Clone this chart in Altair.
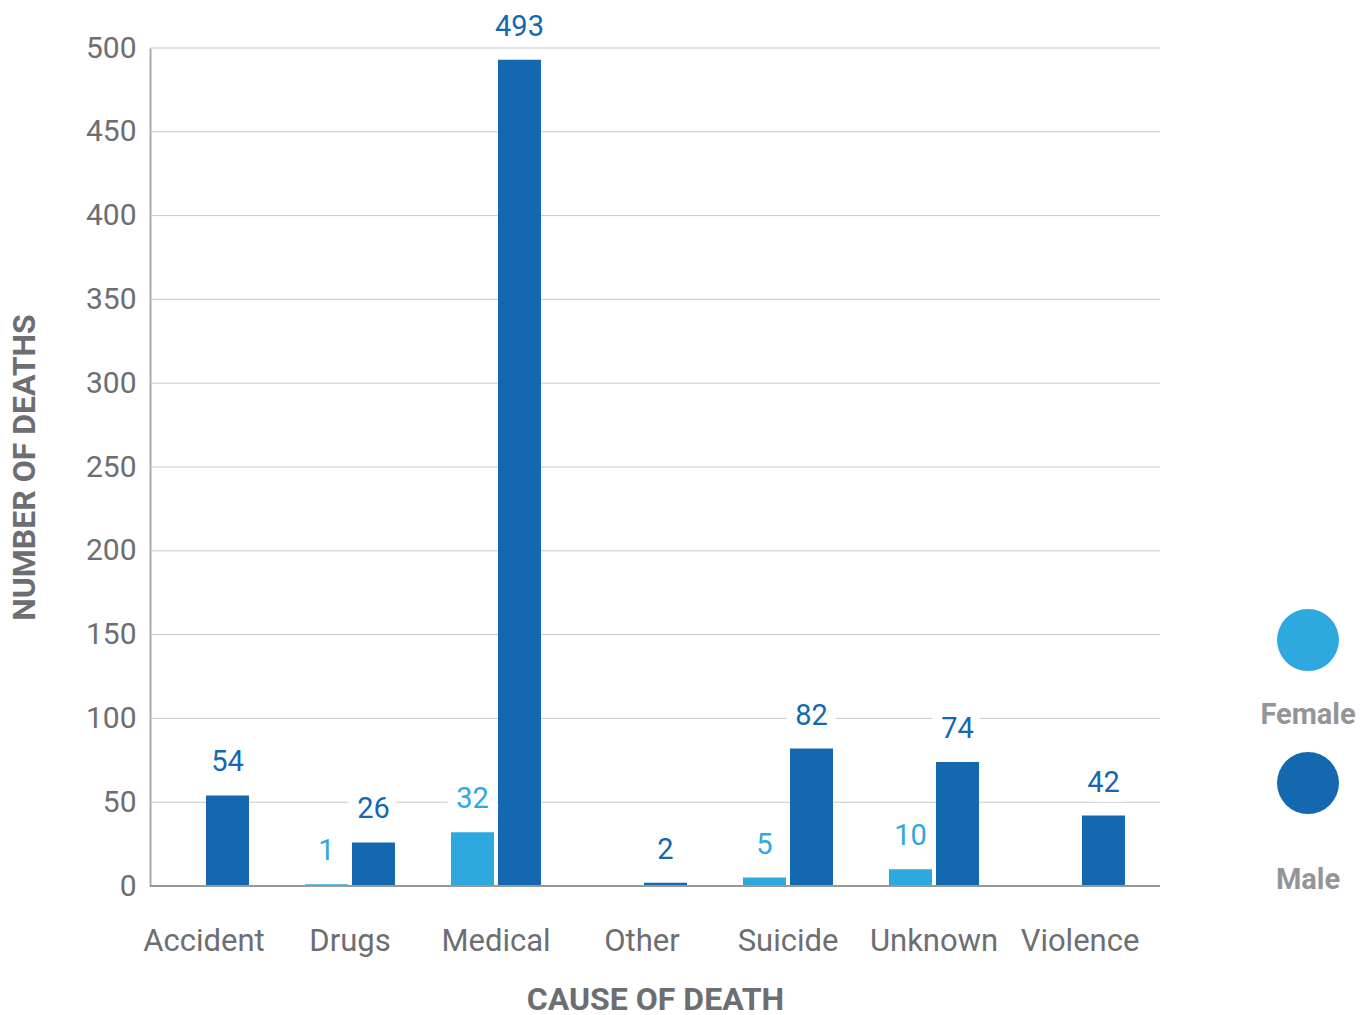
import altair as alt
import pandas as pd

# Deaths by cause and sex
causes = ["Accident", "Drugs", "Medical", "Other", "Suicide", "Unknown", "Violence"]
female = [None, 1, 32, None, 5, 10, None]
male = [54, 26, 493, 2, 82, 74, 42]
series = ["Female", "Male"]
colors = ["#2EA9E0", "#1368B0"]
y_ticks = list(range(0, 501, 50))

rows = []
for cause, f, m in zip(causes, female, male):
    if f is not None:
        rows.append({"cause": cause, "sex": "Female", "deaths": f})
    if m is not None:
        rows.append({"cause": cause, "sex": "Male", "deaths": m})
df = pd.DataFrame(rows)

FONT = "Roboto"
GREY = "#6d6e71"
PLOT_W = 1010
PLOT_H = 838

y_scale = alt.Scale(domain=[0, 500], nice=False)

x_enc = alt.X(
    "cause:N",
    sort=causes,
    scale=alt.Scale(range=[-19, 1003], paddingInner=0, paddingOuter=0),
    axis=alt.Axis(
        title="CAUSE OF DEATH",
        titleX=PLOT_W / 2,
        labelAngle=0,
        labelFontSize=31,
        domain=False,
        ticks=False,
        grid=False,
        labelPadding=40,
        titlePadding=28,
    ),
)
xoff_enc = alt.XOffset(
    "sex:N",
    sort=series,
    scale=alt.Scale(domain=series, paddingInner=0.085, paddingOuter=0.596),
)
y_enc = alt.Y(
    "deaths:Q",
    scale=y_scale,
    axis=alt.Axis(
        title="NUMBER OF DEATHS",
        values=y_ticks,
        ticks=False,
        grid=False,
        labelFontSize=30,
        labelPadding=14,
        titlePadding=44,
    ),
)
color_enc = alt.Color("sex:N", scale=alt.Scale(domain=series, range=colors), legend=None)

# Horizontal gridlines across the full plot width
grid = alt.Chart(pd.DataFrame({"deaths": y_ticks[1:]})).mark_rule(
    color="#c8c8c8", strokeWidth=1
).encode(y=alt.Y("deaths:Q", scale=y_scale))

base = alt.Chart(df).encode(x=x_enc, xOffset=xoff_enc, y=y_enc)

bars = base.mark_bar().encode(color=color_enc)

# White halo so the value labels break the gridlines
halo = base.mark_text(
    dy=-33, font=FONT, fontSize=29, fill="white", stroke="white",
    strokeWidth=20, strokeJoin="round",
).encode(text="deaths:Q")

labels = base.mark_text(dy=-33, font=FONT, fontSize=29).encode(
    text="deaths:Q", color=color_enc
)

baseline = alt.Chart(pd.DataFrame({"deaths": [0]})).mark_rule(
    color="#97999b", strokeWidth=2
).encode(y=alt.Y("deaths:Q", scale=y_scale))

main = alt.layer(grid, bars, halo, labels, baseline).properties(width=PLOT_W, height=PLOT_H)

# Legend: swatches with their names underneath
legend_df = pd.DataFrame({"sex": series})
dots = alt.Chart(legend_df).mark_circle(size=3844, opacity=1).encode(
    y=alt.Y("sex:N", sort=series, scale=alt.Scale(type="point", range=[592, 735], padding=0), axis=None),
    color=color_enc,
)
names = alt.Chart(legend_df).mark_text(
    font=FONT, fontSize=29, fontWeight="bold", color="#939598", baseline="middle"
).encode(
    y=alt.Y("sex:N", sort=series, scale=alt.Scale(type="point", range=[667, 832], padding=0), axis=None),
    text="sex:N",
)
legend = alt.layer(dots, names).resolve_scale(y="independent").properties(width=100, height=PLOT_H)

chart = (
    alt.hconcat(main, legend, spacing=86)
    .properties(padding={"left": 8, "top": 12, "right": 0, "bottom": 6})
    .configure_view(stroke=None)
    .configure_axis(
        labelFont=FONT,
        labelColor=GREY,
        titleFont=FONT,
        titleFontSize=32,
        titleFontWeight="bold",
        titleColor=GREY,
        domainColor="#a7a9ac",
        domainWidth=2,
    )
)

chart.save("out.html", embed_options={"renderer": "svg", "actions": False})
